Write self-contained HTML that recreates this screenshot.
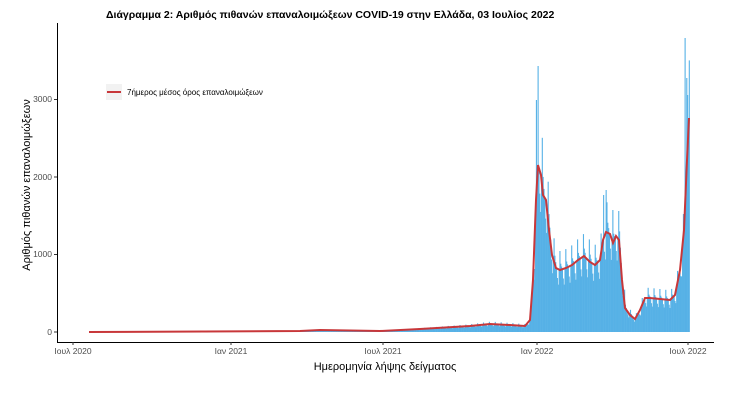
<!DOCTYPE html>
<html><head><meta charset="utf-8"><style>
body{margin:0;background:#fff;width:734px;height:401px;overflow:hidden}
text{font-family:"Liberation Sans",sans-serif}
</style></head><body>
<svg id="s" width="734" height="401" xmlns="http://www.w3.org/2000/svg">
<text x="106" y="18" font-size="10.5" font-weight="bold" fill="#000">Διάγραμμα 2: Αριθμός πιθανών επαναλοιμώξεων COVID-19 στην Ελλάδα, 03 Ιουλίος 2022</text>
<g id="bars"></g>
<polyline id="avg" fill="none" stroke="#c8373a" stroke-width="2" points=""/>
<line x1="57.5" y1="23" x2="57.5" y2="342" stroke="#000" stroke-width="1"/>
<line x1="57" y1="342.5" x2="714" y2="342.5" stroke="#000" stroke-width="1"/>
<g font-size="8.5" fill="#4d4d4d" text-anchor="end">
<text x="52" y="335">0</text><text x="52" y="257">1000</text><text x="52" y="180">2000</text><text x="52" y="102">3000</text>
</g>
<g stroke="#333"><line x1="54" x2="57" y1="332" y2="332"/><line x1="54" x2="57" y1="254.5" y2="254.5"/><line x1="54" x2="57" y1="177" y2="177"/><line x1="54" x2="57" y1="99.5" y2="99.5"/>
<line x1="73" x2="73" y1="342" y2="345"/><line x1="231" x2="231" y1="342" y2="345"/><line x1="383" x2="383" y1="342" y2="345"/><line x1="537" x2="537" y1="342" y2="345"/><line x1="688" x2="688" y1="342" y2="345"/></g>
<g font-size="8.5" fill="#4d4d4d" text-anchor="middle">
<text x="73" y="354">Ιουλ 2020</text><text x="231" y="354">Ιαν 2021</text><text x="383" y="354">Ιουλ 2021</text><text x="537" y="354">Ιαν 2022</text><text x="688" y="354">Ιουλ 2022</text>
</g>
<text x="385" y="370" font-size="11" text-anchor="middle" fill="#000">Ημερομηνία λήψης δείγματος</text>
<text transform="translate(30,185) rotate(-90)" font-size="11" text-anchor="middle" fill="#000">Αριθμός πιθανών επαναλοιμώξεων</text>
<rect x="106" y="84" width="16" height="16" fill="#f2f2f2"/>
<line x1="107" x2="121" y1="92" y2="92" stroke="#c8373a" stroke-width="2"/>
<text x="127" y="95" font-size="8" fill="#000">7ήμερος μέσος όρος επαναλοιμώξεων</text>
</svg>
<script>
(function(){
var P=[[89,332],[300,331],[320,330],[380,331],[420,329],[470,326],[490,324],[510,325],[525,326],[530,320],[533,280],[536,200],[538,165],[541,175],[543,195],[546,200],[549,230],[552,255],[556,268],[560,270],[566,268],[572,265],[578,260],[584,256],[590,262],[595,265],[600,260],[603,240],[606,232],[610,234],[613,243],[616,236],[619,240],[622,280],[625,308],[630,315],[635,319],[640,310],[645,298],[650,298],[660,299],[670,300],[675,295],[680,270],[684,230],[687,160],[689,118]];
var pts=[];for(var i=0;i<P.length;i++){pts.push(P[i][0]+','+P[i][1]);}
document.getElementById('avg').setAttribute('points',pts.join(' '));
function f(x){for(var i=0;i<P.length-1;i++){if(x<=P[i+1][0]){var t=(x-P[i][0])/(P[i+1][0]-P[i][0]);return P[i][1]+t*(P[i+1][1]-P[i][1]);}}return P[P.length-1][1];}
var g=document.getElementById('bars');var NS='http://www.w3.org/2000/svg';
var mult=[1.0,1.3,1.1,1.05,1.0,0.85,0.75];
var sp={538:66,536:100,685:38,686:78,687:95,606:190,603:195,612:210};
var used={};var d=0;
for(var x=89;x<=689;x+=0.84){d++;var a=332-f(x);var top=332-a*mult[d%7];
var k=Math.round(x);if(sp[k]&&!used[k]){top=sp[k];used[k]=1;}
var r=document.createElementNS(NS,'rect');
r.setAttribute('x',x.toFixed(2));r.setAttribute('y',top.toFixed(1));
r.setAttribute('width','1.1');r.setAttribute('height',(332-top).toFixed(1));
r.setAttribute('fill','#56b1e6');g.appendChild(r);}
})();
</script>
</body></html>
